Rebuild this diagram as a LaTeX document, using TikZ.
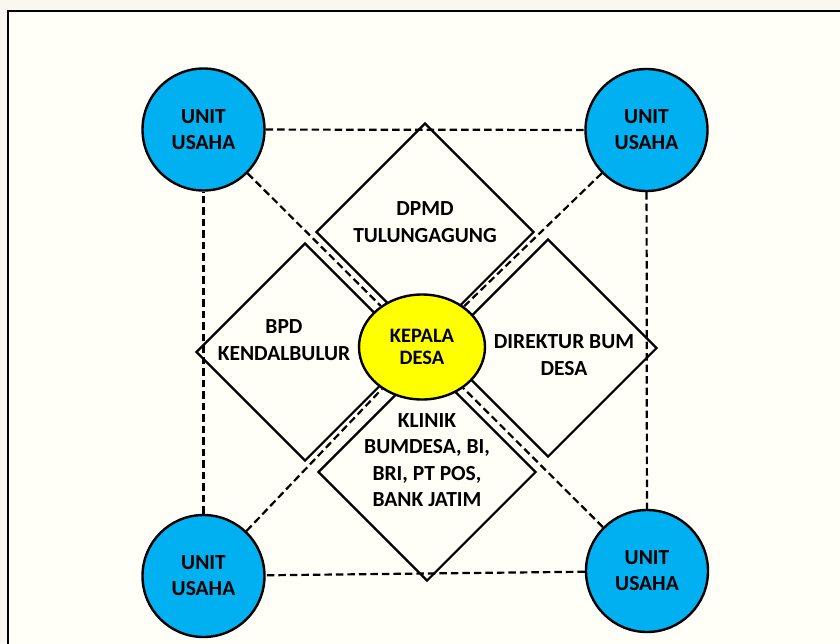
\documentclass[tikz,border=0pt]{standalone}
\usepackage{fontspec}
\setmainfont{Carlito}
\usetikzlibrary{shapes.geometric}
\definecolor{outbg}{HTML}{FAF6F0}
\definecolor{inbg}{HTML}{FFFEF7}
\definecolor{unitblue}{HTML}{00B0F0}
\definecolor{kdyellow}{HTML}{FFFF00}
\begin{document}
\begin{tikzpicture}[x=1pt,y=-1pt,
  unit/.style={circle,draw=black,line width=2.4pt,fill=unitblue,minimum size=122pt,inner sep=0pt,align=center,font=\bfseries\fontsize{21.5}{26}\selectfont},
  kdnode/.style={ellipse,draw=black,line width=2.4pt,fill=kdyellow,minimum width=126pt,minimum height=105pt,inner sep=0pt,align=center,font=\bfseries\fontsize{20.5}{22.5}\selectfont},
  dia/.style={diamond,draw=black,line width=2.2pt,minimum width=218pt,minimum height=218pt,inner sep=0pt},
  lbl/.style={align=center,inner sep=0pt,font=\bfseries\fontsize{21.5}{26.5}\selectfont},
  link/.style={draw=black,line width=2.2pt,dash pattern=on 7.5pt off 4pt}
]
\useasboundingbox (0,0) rectangle (840,643);
\clip (0,0) rectangle (840,643);
\fill[outbg] (0,0) rectangle (840,643);
\draw[line width=2.4pt,fill=inbg] (8,11) rectangle (870,680);

% diamonds
\node[dia] (dt) at (425,232) {};
\node[dia] (dl) at (305,352) {};
\node[dia] (dr) at (548,348) {};
\node[dia] (db) at (427,472) {};

% circles
\node[unit] (tl) at (203.5,129.5) {UNIT\\USAHA};
\node[unit] (tr) at (646.5,130) {UNIT\\USAHA};
\node[unit] (bl) at (203.5,576) {UNIT\\USAHA};
\node[unit] (br) at (647,571) {UNIT\\USAHA};

% centre
\node[kdnode] (kd) at (422,347) {KEPALA\\DESA};

% dashed links
\draw[link] (tl) -- (tr);
\draw[link] (tr) -- (br);
\draw[link] (br) -- (bl);
\draw[link] (bl) -- (tl);
\draw[link] (tl) -- (kd);
\draw[link] (tr) -- (kd);
\draw[link] (bl) -- (kd);
\draw[link] (br) -- (kd);

% labels
\node[lbl] (tdpmd) at (425,222) {DPMD\\TULUNGAGUNG};
\node[lbl] (tbpd) at (284,340) {BPD\\KENDALBULUR};
\node[lbl] (tdir) at (564,355) {DIREKTUR BUM\\DESA};
\node[lbl] (tkl) at (427,460) {KLINIK\\BUMDESA, BI,\\BRI, PT POS,\\BANK JATIM};
\end{tikzpicture}
\end{document}
